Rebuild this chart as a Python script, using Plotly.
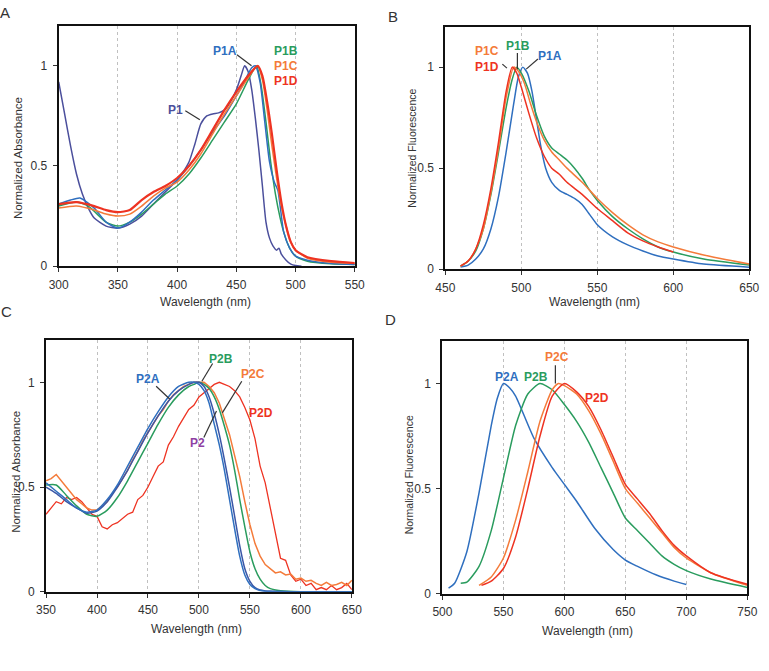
import plotly.graph_objects as go

# ---------------- Panel A: absorbance (P1 series) ----------------
wl_a_p1 = [300, 305, 310, 315, 320, 325, 330, 340, 350, 360, 370, 380, 390, 400, 405, 410, 415, 420, 425,
           430, 435, 440, 445, 450, 454, 457, 460, 463, 466, 469, 472, 475, 478, 481, 484, 486, 488, 492,
           496, 500, 505]
abs_p1 = [0.92, 0.76, 0.60, 0.46, 0.36, 0.29, 0.24, 0.20, 0.19, 0.21, 0.25, 0.31, 0.37, 0.43, 0.47, 0.52,
          0.61, 0.71, 0.75, 0.76, 0.765, 0.78, 0.82, 0.88, 0.95, 1.0, 0.97, 0.88, 0.74, 0.58, 0.40, 0.22,
          0.14, 0.10, 0.08, 0.09, 0.06, 0.03, 0.01, 0.003, 0.0]

wl_a_p1a = [300, 310, 318, 330, 340, 350, 360, 370, 380, 390, 400, 410, 420, 430, 440, 450, 455, 460, 463,
            466, 470, 474, 478, 482, 485, 487, 490, 495, 500, 510, 520, 535, 550]
abs_p1a = [0.31, 0.33, 0.34, 0.29, 0.22, 0.19, 0.22, 0.27, 0.33, 0.38, 0.43, 0.50, 0.58, 0.67, 0.75, 0.85,
           0.90, 0.96, 0.99, 1.0, 0.92, 0.72, 0.52, 0.42, 0.38, 0.30, 0.17, 0.09, 0.05, 0.03, 0.02, 0.012, 0.008]

wl_a_p1b = [300, 315, 325, 340, 350, 360, 370, 380, 390, 400, 410, 420, 430, 440, 450, 460, 467, 471, 475,
            479, 483, 487, 490, 495, 500, 510, 530, 550]
abs_p1b = [0.30, 0.32, 0.30, 0.22, 0.20, 0.22, 0.26, 0.31, 0.36, 0.40, 0.46, 0.54, 0.63, 0.72, 0.81, 0.93,
           1.0, 0.90, 0.72, 0.52, 0.36, 0.24, 0.17, 0.09, 0.05, 0.025, 0.012, 0.008]

wl_a_p1c = [300, 315, 330, 340, 350, 360, 370, 380, 390, 400, 410, 420, 430, 440, 450, 460, 468, 472, 476,
            480, 484, 488, 492, 496, 500, 510, 530, 550]
abs_p1c = [0.29, 0.30, 0.28, 0.26, 0.25, 0.26, 0.30, 0.35, 0.39, 0.42, 0.48, 0.56, 0.66, 0.76, 0.85, 0.94,
           1.0, 0.93, 0.78, 0.60, 0.44, 0.30, 0.20, 0.12, 0.08, 0.04, 0.02, 0.015]

wl_a_p1d = [300, 315, 330, 340, 350, 360, 370, 380, 390, 400, 410, 420, 430, 440, 450, 460, 468, 472, 476,
            480, 484, 488, 492, 496, 500, 510, 530, 550]
abs_p1d = [0.31, 0.32, 0.30, 0.28, 0.27, 0.28, 0.33, 0.37, 0.40, 0.44, 0.50, 0.58, 0.68, 0.78, 0.87, 0.95,
           1.0, 0.95, 0.82, 0.66, 0.48, 0.32, 0.20, 0.12, 0.08, 0.045, 0.025, 0.015]

# ---------------- Panel B: fluorescence (P1 series) ----------------
wl_b_p1a = [460, 465, 470, 475, 480, 485, 490, 495, 498, 501, 504, 507, 510, 513, 516, 520, 525, 530, 535,
            540, 545, 550, 560, 570, 580, 590, 600, 620, 650]
fl_p1a = [0.01, 0.02, 0.05, 0.10, 0.20, 0.36, 0.58, 0.82, 0.95, 1.0, 0.97, 0.88, 0.74, 0.60, 0.50, 0.43,
          0.39, 0.37, 0.35, 0.32, 0.27, 0.22, 0.16, 0.12, 0.09, 0.065, 0.05, 0.025, 0.01]

wl_b_p1b = [460, 465, 470, 475, 480, 485, 490, 494, 497, 500, 505, 510, 515, 520, 525, 530, 535, 540, 545,
            550, 560, 570, 580, 590, 600, 620, 650]
fl_p1b = [0.015, 0.04, 0.09, 0.20, 0.37, 0.58, 0.80, 0.94, 1.0, 0.97, 0.88, 0.76, 0.66, 0.60, 0.57, 0.54,
          0.50, 0.45, 0.39, 0.34, 0.26, 0.20, 0.15, 0.11, 0.085, 0.05, 0.02]

wl_b_p1c = [460, 465, 470, 475, 480, 485, 490, 495, 498, 502, 506, 510, 515, 520, 525, 530, 540, 550, 560,
            570, 580, 590, 600, 620, 650]
fl_p1c = [0.015, 0.04, 0.10, 0.20, 0.38, 0.60, 0.85, 1.0, 0.98, 0.92, 0.82, 0.73, 0.64, 0.58, 0.54, 0.50,
          0.43, 0.35, 0.28, 0.22, 0.17, 0.135, 0.11, 0.07, 0.025]

wl_b_p1d = [460, 465, 470, 475, 480, 485, 490, 494, 497, 500, 505, 510, 515, 520, 525, 530, 540, 550, 560,
            570, 580, 590, 600]
fl_p1d = [0.015, 0.04, 0.10, 0.22, 0.40, 0.63, 0.88, 1.0, 0.97, 0.90, 0.77, 0.65, 0.56, 0.50, 0.47, 0.43,
          0.37, 0.30, 0.24, 0.18, 0.14, 0.11, 0.085]

# ---------------- Panel C: absorbance (P2 series) ----------------
wl_c_smooth = [350, 360, 370, 380, 390, 400, 410, 420, 430, 440, 450, 460, 470, 480, 490, 495, 500, 505,
               510, 515, 520, 525, 530, 535, 540, 545, 550, 555, 560, 565, 570, 580, 600, 650]
abs_p2a = [0.52, 0.48, 0.44, 0.40, 0.38, 0.39, 0.44, 0.51, 0.60, 0.69, 0.78, 0.86, 0.93, 0.98, 1.0, 1.0,
           0.99, 0.96, 0.90, 0.80, 0.70, 0.58, 0.44, 0.30, 0.17, 0.08, 0.035, 0.015, 0.006, 0.003, 0.002,
           0.001, 0.0, 0.0]
abs_p2 = [0.50, 0.47, 0.43, 0.40, 0.375, 0.385, 0.43, 0.50, 0.58, 0.67, 0.76, 0.84, 0.91, 0.96, 0.99, 1.0,
          1.0, 0.98, 0.93, 0.85, 0.75, 0.63, 0.50, 0.36, 0.22, 0.11, 0.05, 0.02, 0.008, 0.004, 0.002,
          0.001, 0.0, 0.0]
abs_p2b = [0.51, 0.51, 0.46, 0.41, 0.37, 0.36, 0.39, 0.45, 0.53, 0.62, 0.71, 0.80, 0.88, 0.94, 0.98, 0.99,
           1.0, 0.99, 0.97, 0.93, 0.87, 0.79, 0.70, 0.58, 0.44, 0.31, 0.19, 0.11, 0.06, 0.03, 0.015,
           0.005, 0.0, 0.0]

wl_c_noisy = [350, 355, 360, 365, 370, 375, 380, 385, 390, 395, 400, 405, 410, 415, 420, 425, 430, 435, 440,
              445, 450, 455, 460, 465, 470, 475, 480, 485, 490, 495, 500, 505, 510, 515, 520, 525, 530, 535,
              540, 545, 550, 555, 560, 565, 570, 575, 580, 585, 590, 595, 600, 605, 610, 615, 620, 625, 630,
              635, 640, 645, 650]
abs_p2c = [0.53, 0.54, 0.56, 0.53, 0.50, 0.47, 0.44, 0.42, 0.40, 0.39, 0.39, 0.41, 0.43, 0.47, 0.50, 0.54,
           0.58, 0.63, 0.67, 0.72, 0.76, 0.80, 0.84, 0.87, 0.91, 0.94, 0.96, 0.98, 0.99, 1.0, 1.0, 1.0, 0.98,
           0.95, 0.90, 0.83, 0.75, 0.65, 0.55, 0.43, 0.32, 0.23, 0.17, 0.13, 0.11, 0.09, 0.095, 0.08, 0.085,
           0.06, 0.065, 0.05, 0.055, 0.04, 0.03, 0.045, 0.03, 0.035, 0.045, 0.03, 0.055]
abs_p2d = [0.37, 0.40, 0.43, 0.42, 0.45, 0.44, 0.45, 0.43, 0.40, 0.37, 0.36, 0.31, 0.30, 0.32, 0.33, 0.35,
           0.37, 0.38, 0.44, 0.46, 0.50, 0.55, 0.60, 0.62, 0.70, 0.74, 0.79, 0.83, 0.87, 0.89, 0.93, 0.95,
           0.97, 0.99, 1.0, 0.99, 0.98, 0.96, 0.93, 0.88, 0.82, 0.73, 0.60, 0.52, 0.40, 0.28, 0.16, 0.15,
           0.08, 0.05, 0.06, 0.03, 0.04, 0.01, 0.02, 0.01, 0.03, 0.01, 0.02, 0.04, 0.01]

# ---------------- Panel D: fluorescence (P2 series) ----------------
wl_d_p2a = [505, 510, 520, 530, 540, 545, 550, 555, 560, 575, 590, 600, 610, 625, 640, 650, 660, 675, 690, 700]
fl_p2a = [0.027, 0.05, 0.20, 0.48, 0.80, 0.93, 1.0, 0.98, 0.94, 0.74, 0.60, 0.52, 0.44, 0.31, 0.21, 0.16,
          0.13, 0.09, 0.06, 0.044]

wl_d_p2b = [515, 520, 530, 540, 550, 560, 570, 580, 590, 600, 610, 620, 630, 640, 650, 660, 670, 680, 690,
            700, 720, 750]
fl_p2b = [0.05, 0.055, 0.13, 0.30, 0.55, 0.80, 0.95, 1.0, 0.97, 0.90, 0.82, 0.72, 0.60, 0.48, 0.36, 0.30,
          0.24, 0.18, 0.14, 0.11, 0.07, 0.03]

wl_d_p2c = [530, 540, 550, 560, 570, 580, 590, 595, 600, 610, 620, 630, 640, 650, 660, 670, 680, 690, 700,
            720, 750]
fl_p2c = [0.04, 0.08, 0.17, 0.35, 0.58, 0.82, 0.97, 1.0, 0.99, 0.95, 0.87, 0.76, 0.63, 0.50, 0.43, 0.36,
          0.29, 0.22, 0.17, 0.10, 0.04]

wl_d_p2d = [532, 540, 550, 560, 570, 580, 590, 600, 610, 620, 630, 640, 650, 660, 670, 680, 690, 700, 720, 750]
fl_p2d = [0.04, 0.06, 0.12, 0.27, 0.50, 0.75, 0.94, 1.0, 0.96, 0.89, 0.78, 0.65, 0.52, 0.45, 0.38, 0.30,
          0.23, 0.18, 0.10, 0.045]

# ticks
ticks_a = [300, 350, 400, 450, 500, 550]
ticks_b = [450, 500, 550, 600, 650]
ticks_c = [350, 400, 450, 500, 550, 600, 650]
ticks_d = [500, 550, 600, 650, 700, 750]
y_ticks = [0, 0.5, 1]
y_tick_text = ["0", "0.5", "1"]

BLUE = "#2f6fbf"
GREEN = "#2a9c5e"
ORANGE = "#f47b3a"
RED = "#ee3322"
SLATE = "#4b4f9c"
PURPLE = "#8e3fa3"

fig = go.Figure()


def add(x, y, color, ax, width=1.5, shape="spline"):
    fig.add_trace(go.Scatter(x=x, y=y, mode="lines",
                             line=dict(color=color, width=width, shape=shape, smoothing=0.6),
                             xaxis="x" + ax, yaxis="y" + ax, showlegend=False, hoverinfo="skip"))


# Panel A
add(wl_a_p1, abs_p1, SLATE, "")
add(wl_a_p1b, abs_p1b, GREEN, "")
add(wl_a_p1a, abs_p1a, BLUE, "")
add(wl_a_p1c, abs_p1c, ORANGE, "")
add(wl_a_p1d, abs_p1d, RED, "", width=2.2)
# Panel B
add(wl_b_p1a, fl_p1a, BLUE, "2")
add(wl_b_p1b, fl_p1b, GREEN, "2")
add(wl_b_p1c, fl_p1c, ORANGE, "2")
add(wl_b_p1d, fl_p1d, RED, "2")
# Panel C
add(wl_c_noisy, abs_p2d, RED, "3", width=1.3, shape="linear")
add(wl_c_noisy, abs_p2c, ORANGE, "3", width=1.5, shape="linear")
add(wl_c_smooth, abs_p2b, GREEN, "3")
add(wl_c_smooth, abs_p2, "#3a56a6", "3")
add(wl_c_smooth, abs_p2a, BLUE, "3")
# Panel D
add(wl_d_p2a, fl_p2a, BLUE, "4")
add(wl_d_p2b, fl_p2b, GREEN, "4")
add(wl_d_p2c, fl_p2c, ORANGE, "4")
add(wl_d_p2d, fl_p2d, RED, "4")

W, H = 769, 671


def dom_x(a, b):
    return [a / W, b / W]


def dom_y(top, bottom):
    return [1 - bottom / H, 1 - top / H]


tickfont = dict(family="Liberation Sans, Arial", size=12, color="#333")
xcommon = dict(showline=True, linecolor="#111", linewidth=2, mirror=True, ticks="outside", ticklen=4,
               tickcolor="#333", tickwidth=1, showgrid=True, gridcolor="#c0c0c0", griddash="dot", gridwidth=1,
               zeroline=False, tickfont=tickfont, ticklabelstandoff=2)
ycommon = dict(showline=True, linecolor="#111", linewidth=2, mirror=True, ticks="outside", ticklen=4,
               tickcolor="#333", tickwidth=1, showgrid=False, zeroline=False, range=[0, 1.2],
               tickvals=y_ticks, ticktext=y_tick_text, tickfont=tickfont, ticklabelstandoff=3)

fig.update_layout(
    width=W, height=H, margin=dict(l=0, r=0, t=0, b=0),
    paper_bgcolor="white", plot_bgcolor="white",
    xaxis=dict(xcommon, domain=dom_x(50, 354), range=[300, 550], tickvals=ticks_a, anchor="y"),
    yaxis=dict(ycommon, domain=dom_y(26, 269), anchor="x"),
    xaxis2=dict(xcommon, domain=dom_x(447, 759), range=[450, 650], tickvals=ticks_b, anchor="y2"),
    yaxis2=dict(ycommon, domain=dom_y(27, 272), anchor="x2"),
    xaxis3=dict(xcommon, domain=dom_x(37, 351), range=[350, 650], tickvals=ticks_c, anchor="y3"),
    yaxis3=dict(ycommon, domain=dom_y(344, 598), anchor="x3"),
    xaxis4=dict(xcommon, domain=dom_x(444, 757), range=[500, 750], tickvals=ticks_d, anchor="y4"),
    yaxis4=dict(ycommon, domain=dom_y(345, 600), anchor="x4"),
)

ann = []


def ptext(txt, px, py, size=12, angle=0, color="#333", xanchor="center"):
    ann.append(dict(text=txt, x=px / W, y=1 - py / H, xref="paper", yref="paper", showarrow=False,
                    xanchor=xanchor, yanchor="middle", textangle=angle,
                    font=dict(family="Liberation Sans, Arial", size=size, color=color)))


# axis titles
ptext("Normalized Absorbance", 9, 160, size=11.5, angle=-90)
ptext("Normalized Fluorescence", 413, 150, size=10.5, angle=-90)
ptext("Normalized Absorbance", 6, 477, size=11.5, angle=-90)
ptext("Normalized Fluorescence", 410, 480, size=10.5, angle=-90)
ptext("Wavelength (nm)", 201, 305, size=12)
ptext("Wavelength (nm)", 600, 305, size=12)
ptext("Wavelength (nm)", 191, 636, size=12)
ptext("Wavelength (nm)", 593, 638, size=12)
# panel letters (A and C sit at the left edge, mostly cut off as in the source)
ptext("A", 2, 13, size=15, xanchor="right")
ptext("B", 393, 17, size=15)
ptext("C", 4, 315, size=15, xanchor="right")
ptext("D", 391, 323, size=15)


def dtext(txt, x, y, ax, color):
    ann.append(dict(text="<b>" + txt + "</b>", x=x, y=y, xref="x" + ax, yref="y" + ax, showarrow=False,
                    xanchor="center", yanchor="middle",
                    font=dict(family="Liberation Sans, Arial", size=12, color=color)))


shapes = []


def dline(x0, y0, x1, y1, ax):
    shapes.append(dict(type="line", x0=x0, y0=y0, x1=x1, y1=y1, xref="x" + ax, yref="y" + ax,
                       line=dict(color="#333", width=1.2)))


# Panel A labels
dtext("P1A", 440, 1.075, "", BLUE)
dline(450.5, 1.055, 462.8, 1.0, "")
dtext("P1B", 491.6, 1.075, "", GREEN)
dtext("P1C", 491.6, 1.0, "", ORANGE)
dtext("P1D", 491.6, 0.925, "", RED)
dtext("P1", 398.7, 0.78, "", SLATE)
dline(406.9, 0.776, 419.2, 0.731, "")
# Panel B labels
dtext("P1C", 477.6, 1.08, "2", ORANGE)
dtext("P1D", 477.6, 1.0, "2", RED)
dtext("P1B", 498.1, 1.105, "2", GREEN)
dtext("P1A", 518.6, 1.055, "2", BLUE)
dline(497.4, 1.07, 497.4, 0.99, "2")
dline(510.9, 1.04, 503.2, 0.99, "2")
dline(487.5, 1.015, 490.5, 0.995, "2")
# Panel C labels
dtext("P2A", 450.3, 1.014, "3", BLUE)
dline(458, 0.981, 471.3, 0.92, "3")
dtext("P2B", 522, 1.113, "3", GREEN)
dline(513.4, 1.09, 502.9, 1.005, "3")
dtext("P2C", 553.5, 1.042, "3", ORANGE)
dline(542, 1.005, 522.9, 0.854, "3")
dtext("P2D", 561.1, 0.854, "3", RED)
dtext("P2", 498.1, 0.708, "3", PURPLE)
dline(504.8, 0.736, 517.2, 0.863, "3")
# Panel D labels
dtext("P2A", 552.7, 1.03, "4", BLUE)
dtext("P2B", 576.7, 1.03, "4", GREEN)
dtext("P2C", 594.2, 1.124, "4", ORANGE)
dline(592.6, 1.086, 592.6, 1.0, "4")
dtext("P2D", 627, 0.93, "4", RED)

fig.update_layout(annotations=ann, shapes=shapes)
fig.write_html("out.html")
